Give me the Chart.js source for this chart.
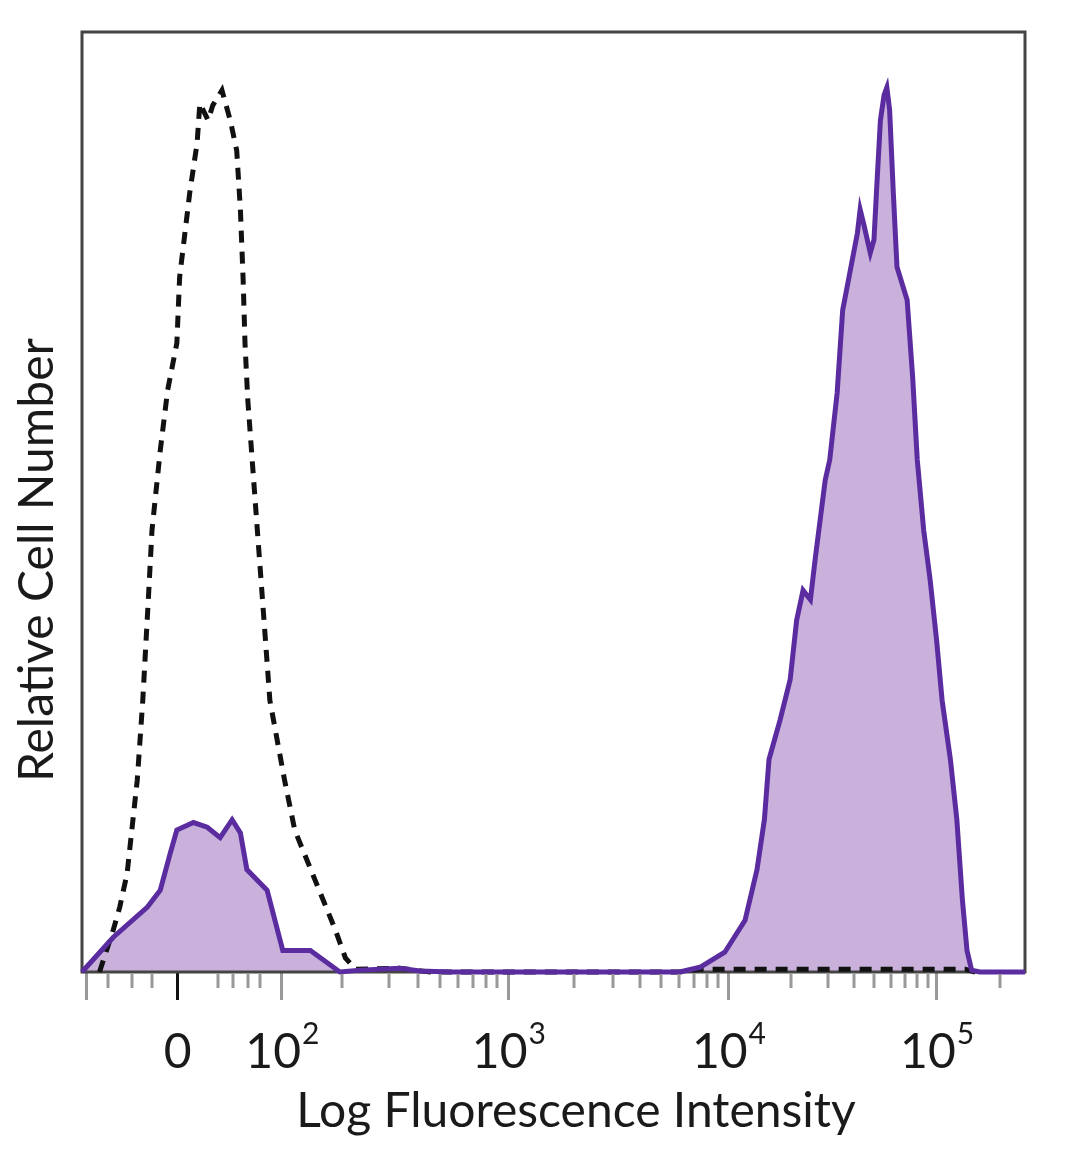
<!DOCTYPE html>
<html>
<head>
<meta charset="utf-8">
<script src="https://cdn.jsdelivr.net/npm/chart.js@4/dist/chart.umd.min.js"></script>
<style>
  html, body { margin: 0; padding: 0; background: #fff; }
  #wrap { width: 1080px; height: 1169px; }
</style>
</head>
<body>
<div id="wrap"><canvas id="histo"></canvas></div>
<script>
// x is in histogram channels (0-1024), y is % of the tallest peak

// stained sample (filled purple)
const stainedX = [0, 34, 71, 85, 96, 103, 121, 136, 150, 163, 172, 179, 201, 218, 248, 280, 302, 345, 367, 400, 649,
  671, 698, 720, 733, 741, 746, 758, 769, 776, 783, 791, 796, 807, 812, 820, 826, 842, 845, 849, 856, 860, 863, 867,
  871, 874, 877, 881, 885, 896, 902, 907, 914, 921, 928, 934, 943, 950, 956, 961, 966, 975, 1024];
const stainedY = [0, 3.7, 6.9, 8.7, 12.7, 15.1, 15.9, 15.4, 14.3, 16.2, 14.8, 10.9, 8.7, 2.3, 2.3, 0, 0.2, 0.4, 0.1, 0, 0,
  0.5, 2.1, 5.5, 10.9, 16.2, 22.6, 26.8, 31.1, 37.4, 40.6, 39.6, 43.8, 52.3, 54.5, 61.6, 70.4, 78.6, 81.1, 79.5, 76.5, 77.9, 83.5, 90.6,
  93.3, 94.1, 91.7, 82.9, 75, 71.5, 63.3, 54.5, 47, 41.7, 35.3, 28.9, 22.6, 16.2, 7.7, 2.3, 0.2, 0, 0];

// isotype control (dashed black)
const controlX = [19, 34, 41, 49, 55, 60, 66, 72, 76, 85, 93, 103, 106, 117, 125, 128, 137, 142, 152, 161, 168, 172,
  175, 177, 180, 188, 196, 204, 220, 231, 253, 275, 286, 297, 345, 378, 649, 671, 959, 970];
const controlY = [0, 4.5, 6.9, 10.5, 15.9, 20.4, 28.9, 39.6, 47, 55.5, 61.9, 66.9, 73.9, 82.9, 88.2, 92.4, 90.6, 92.2, 93.8, 90.6, 87.4, 81.1,
  73.6, 66.9, 60.9, 50.2, 39.6, 28.9, 20.4, 15.1, 9.8, 4.5, 1.5, 0.3, 0.4, 0, 0, 0.3, 0.3, 0];

// axis ticks (channel positions)
const majorTicks = [5, 104, 217, 463, 702, 928];
const majorLabels = ['', '0', '10|2', '10|3', '10|4', '10|5'];
const minorTicks = [28, 54, 76, 148, 164, 180, 193,
  282, 333, 365, 389, 408, 425, 439, 451,
  534, 577, 606, 629, 648, 665, 679, 691,
  770, 810, 838, 860, 879, 894, 907, 919, 997];

const toPoints = (xs, ys) => xs.map((x, i) => ({ x: x, y: ys[i] }));

const FONT = 'Lato, "Open Sans", sans-serif';

const decorPlugin = {
  id: 'decor',
  beforeDatasetsDraw(chart) {
    const { ctx, chartArea: a } = chart;
    ctx.save();
    ctx.strokeStyle = '#444';
    ctx.lineWidth = 3;
    ctx.strokeRect(a.left, a.top, a.right - a.left, a.bottom - a.top);
    ctx.restore();
  },
  afterDraw(chart) {
    const { ctx, chartArea: a } = chart;
    const xs = chart.scales.x;
    ctx.save();
    // minor ticks
    ctx.strokeStyle = '#999';
    ctx.lineWidth = 3;
    minorTicks.forEach(v => {
      const px = Math.round(xs.getPixelForValue(v));
      ctx.beginPath();
      ctx.moveTo(px, a.bottom + 2);
      ctx.lineTo(px, a.bottom + 16);
      ctx.stroke();
    });
    // tick labels with superscripts
    ctx.fillStyle = '#1a1a1a';
    ctx.textBaseline = 'alphabetic';
    majorTicks.forEach((v, i) => {
      const lab = majorLabels[i];
      if (!lab) return;
      const [base, sup] = lab.split('|');
      const px = xs.getPixelForValue(v);
      ctx.font = '48px ' + FONT;
      const wb = ctx.measureText(base).width;
      ctx.font = '30px ' + FONT;
      const ws = sup ? ctx.measureText(sup).width : 0;
      const x0 = px - (wb + ws) / 2;
      ctx.font = '48px ' + FONT;
      ctx.textAlign = 'left';
      ctx.fillText(base, x0, 1068);
      if (sup) {
        ctx.font = '30px ' + FONT;
        ctx.fillText(sup, x0 + wb + 1, 1044);
      }
    });
    // axis titles
    ctx.font = '48px ' + FONT;
    ctx.textAlign = 'center';
    ctx.fillText('Log Fluorescence Intensity', 576, 1127);
    ctx.translate(53, 560);
    ctx.rotate(-Math.PI / 2);
    ctx.fillText('Relative Cell Number', 0, 0);
    ctx.restore();
  }
};

new Chart(document.getElementById('histo'), {
  type: 'line',
  data: {
    datasets: [{
      label: 'Stained',
      data: toPoints(stainedX, stainedY),
      borderColor: '#5b2ca0',
      backgroundColor: '#c9b1db',
      borderWidth: 5,
      fill: 'origin',
      pointRadius: 0,
      tension: 0,
      clip: 6
    }, {
      label: 'Isotype control',
      data: toPoints(controlX, controlY),
      borderColor: '#111',
      borderWidth: 5,
      borderDash: [12, 9],
      fill: false,
      pointRadius: 0,
      tension: 0,
      clip: 6
    }]
  },
  options: {
    responsive: true,
    maintainAspectRatio: false,
    animation: false,
    layout: { padding: { left: 82, right: 55, top: 32, bottom: 169 } },
    scales: {
      x: {
        type: 'linear',
        min: 0,
        max: 1024,
        afterBuildTicks: axis => { axis.ticks = majorTicks.map(v => ({ value: v })); },
        ticks: { display: false },
        border: { display: false },
        grid: {
          drawOnChartArea: false,
          drawTicks: true,
          tickLength: 28,
          tickWidth: 3,
          tickColor: ctx => (ctx.tick && ctx.tick.value === 104) ? '#111' : '#999'
        }
      },
      y: {
        display: false,
        min: 0,
        max: 100
      }
    },
    plugins: {
      legend: { display: false },
      tooltip: { enabled: false },
      filler: { drawTime: 'beforeDatasetsDraw' }
    }
  },
  plugins: [decorPlugin]
});
</script>
</body>
</html>
